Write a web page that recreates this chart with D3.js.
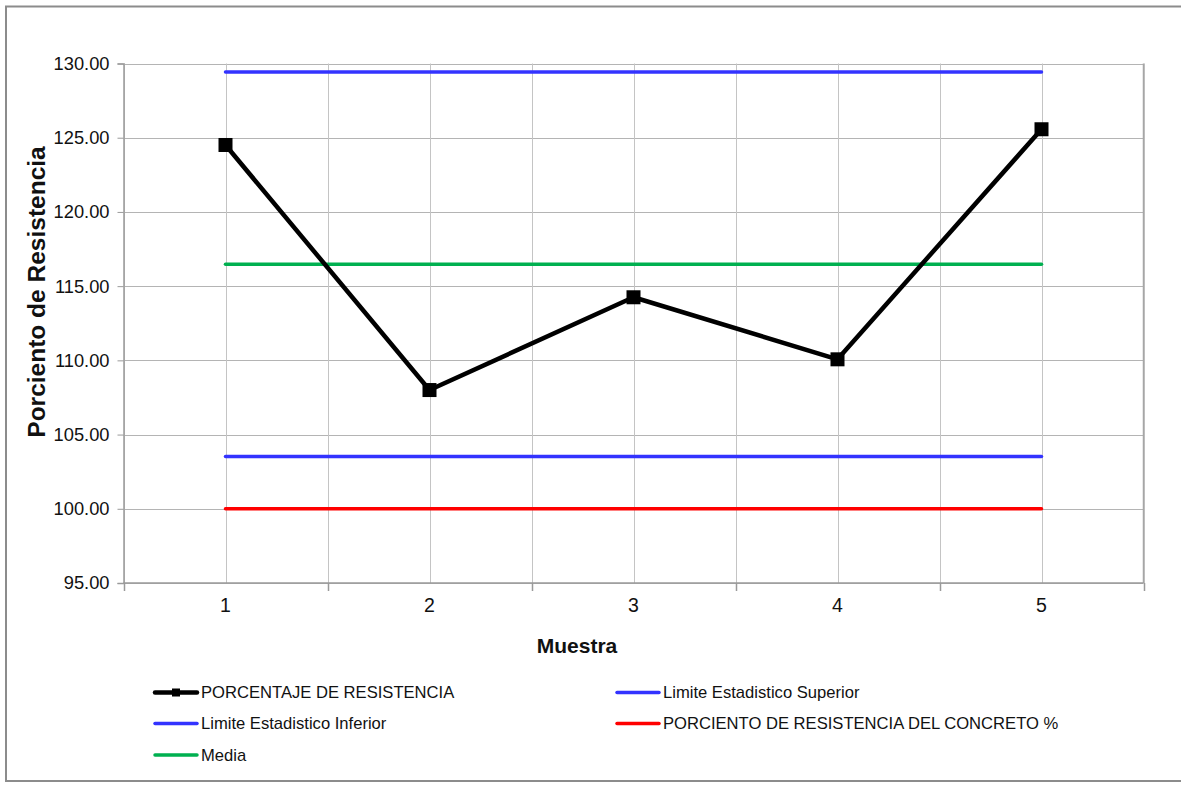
<!DOCTYPE html>
<html>
<head>
<meta charset="utf-8">
<script src="https://cdn.jsdelivr.net/npm/d3@7"></script>
<style>
  html, body { margin: 0; padding: 0; background: #fff; }
  svg { display: block; font-family: "Liberation Sans", Arial, sans-serif; }
</style>
</head>
<body>
<svg id="chart" width="1181" height="785"></svg>
<script>
// Samples and measured strength percentage
const muestras = [1, 2, 3, 4, 5];
const porcentaje = [124.51, 108.0, 114.25, 110.07, 125.57];

// Control limits and reference levels
const limiteSuperior = 129.43;
const media = 116.48;
const limiteInferior = 103.53;
const resistenciaConcreto = 100.0;

const yTicks = [95, 100, 105, 110, 115, 120, 125, 130];

const series = [
  { name: "PORCENTAJE DE RESISTENCIA", color: "#000000", marker: true },
  { name: "Limite Estadistico Superior", color: "#3333ff", value: limiteSuperior },
  { name: "Limite Estadistico Inferior", color: "#3333ff", value: limiteInferior },
  { name: "PORCIENTO DE RESISTENCIA DEL CONCRETO %", color: "#ff0000", value: resistenciaConcreto },
  { name: "Media", color: "#00b050", value: media }
];

const svg = d3.select("#chart");
const W = 1181, H = 785;
const plot = { left: 123.5, right: 1143.5, top: 63.5, bottom: 583 };

// Outer frame
svg.append("rect")
  .attr("x", 6).attr("y", 6.5)
  .attr("width", W + 10).attr("height", 774.5)
  .attr("fill", "#fff").attr("stroke", "#8c8c8c").attr("stroke-width", 2);

const x = d3.scaleBand().domain(muestras).range([plot.left, plot.right]).padding(0);
const y = d3.scaleLinear().domain([95, 130]).range([plot.bottom, plot.top]);
const cx = d => x(d) + x.bandwidth() / 2;

const g = svg.append("g");

// Horizontal grid
g.append("g").selectAll("line").data(yTicks).join("line")
  .attr("x1", plot.left).attr("x2", plot.right)
  .attr("y1", d => Math.round(y(d)) + 0.5).attr("y2", d => Math.round(y(d)) + 0.5)
  .attr("stroke", "#b4b4b4").attr("stroke-width", 1);

// Vertical grid: category centres and boundaries
const boundaries = muestras.map(d => x(d)).concat([plot.right]);
const verticals = boundaries.concat(muestras.map(cx));
g.append("g").selectAll("line").data(verticals).join("line")
  .attr("x1", d => Math.round(d) + 0.5).attr("x2", d => Math.round(d) + 0.5)
  .attr("y1", plot.top).attr("y2", plot.bottom)
  .attr("stroke", "#c4c4c4").attr("stroke-width", 1);

// Plot border right
g.append("line").attr("x1", plot.right).attr("x2", plot.right)
  .attr("y1", plot.top).attr("y2", plot.bottom).attr("stroke", "#a6a6a6").attr("stroke-width", 1.5);

// Y axis
const yAxis = d3.axisLeft(y).tickValues(yTicks).tickFormat(d3.format(".2f")).tickSize(6).tickPadding(8);
const ya = svg.append("g").attr("transform", `translate(${plot.left},0)`).call(yAxis);
ya.select(".domain").attr("stroke", "#9a9a9a").attr("stroke-width", 1.5);
ya.selectAll(".tick line").attr("stroke", "#9a9a9a");
ya.selectAll("text").attr("font-size", 18.3).attr("fill", "#111").attr("font-family", "Liberation Sans, Arial, sans-serif");

// X axis: tick marks at category boundaries, labels at centres
const xa = svg.append("g");
xa.append("line").attr("x1", plot.left).attr("x2", plot.right)
  .attr("y1", plot.bottom).attr("y2", plot.bottom).attr("stroke", "#9a9a9a").attr("stroke-width", 1.5);
xa.selectAll("line.tk").data(boundaries).join("line").attr("class", "tk")
  .attr("x1", d => Math.round(d) + 0.5).attr("x2", d => Math.round(d) + 0.5)
  .attr("y1", plot.bottom).attr("y2", plot.bottom + 8)
  .attr("stroke", "#9a9a9a").attr("stroke-width", 1.5);
xa.selectAll("text").data(muestras).join("text")
  .attr("x", cx).attr("y", 612)
  .attr("text-anchor", "middle").attr("font-size", 19.5).attr("fill", "#111")
  .text(d => d);

// Axis titles
svg.append("text").attr("x", 577).attr("y", 653).attr("text-anchor", "middle")
  .attr("font-size", 21).attr("font-weight", "bold").attr("fill", "#111").text("Muestra");
svg.append("text").attr("transform", "translate(45,292) rotate(-90)").attr("text-anchor", "middle")
  .attr("font-size", 24.5).attr("font-weight", "bold").attr("fill", "#111").text("Porciento de Resistencia");

// Reference lines
const refs = series.filter(s => s.value !== undefined);
g.append("g").selectAll("line").data(refs).join("line")
  .attr("x1", cx(muestras[0])).attr("x2", cx(muestras[muestras.length - 1]))
  .attr("y1", d => y(d.value)).attr("y2", d => y(d.value))
  .attr("stroke", d => d.color).attr("stroke-width", 3.5).attr("stroke-linecap", "round");

// Strength series
const line = d3.line().x((d, i) => cx(muestras[i])).y(d => y(d));
g.append("path").datum(porcentaje).attr("d", line)
  .attr("fill", "none").attr("stroke", "#000").attr("stroke-width", 4.5).attr("stroke-linejoin", "round");
g.append("g").selectAll("rect").data(porcentaje).join("rect")
  .attr("x", (d, i) => cx(muestras[i]) - 7).attr("y", d => y(d) - 7)
  .attr("width", 14).attr("height", 14).attr("fill", "#000");

// Legend
const legendPos = [
  { x: 155, y: 692.5 }, { x: 617, y: 692.5 },
  { x: 155, y: 723.5 }, { x: 617, y: 723.5 },
  { x: 155, y: 755 }
];
const lg = svg.append("g").selectAll("g").data(series).join("g")
  .attr("transform", (d, i) => `translate(${legendPos[i].x},${legendPos[i].y})`);
lg.append("line").attr("x1", 0).attr("x2", 42).attr("y1", 0).attr("y2", 0)
  .attr("stroke", d => d.color).attr("stroke-width", d => d.marker ? 4.5 : 3.5).attr("stroke-linecap", "round");
lg.filter(d => d.marker).append("rect").attr("x", 17).attr("y", -4).attr("width", 8).attr("height", 8).attr("fill", "#000");
lg.append("text").attr("x", 46).attr("y", 0).attr("dy", "0.35em")
  .attr("font-size", 16.6).attr("fill", "#111").text(d => d.name);
</script>
</body>
</html>
